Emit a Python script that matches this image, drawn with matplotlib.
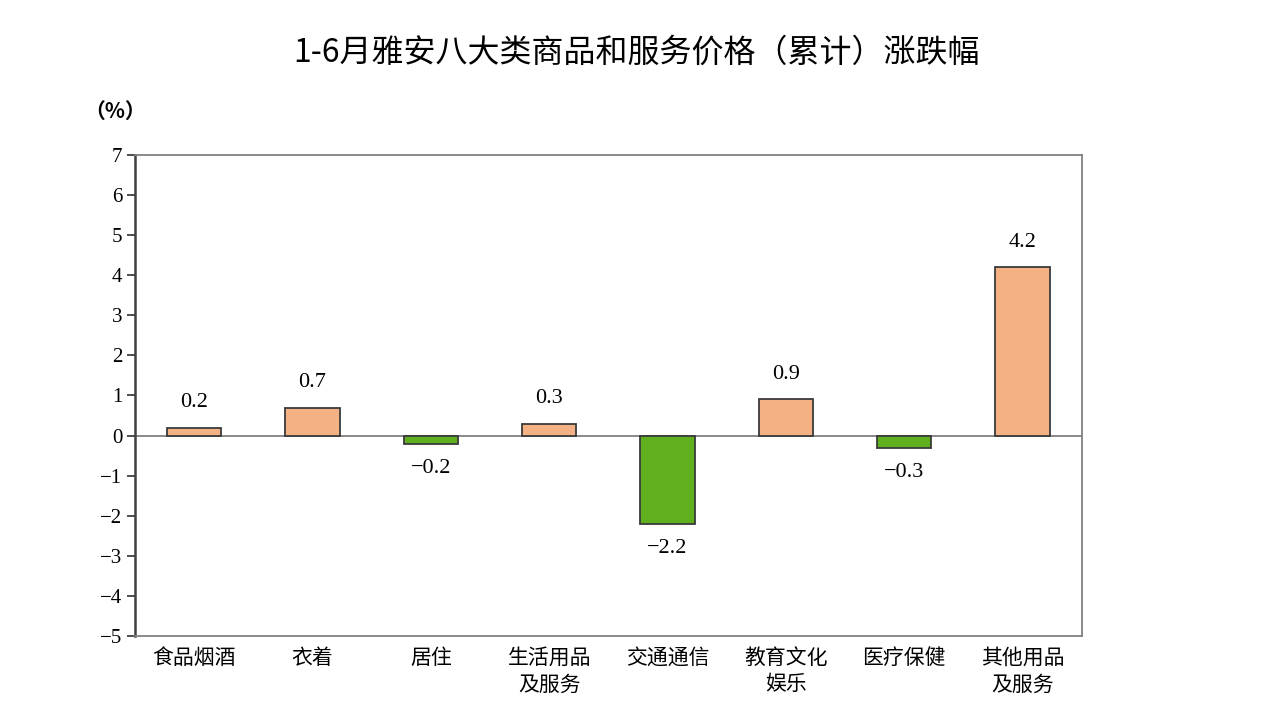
import numpy as np
import matplotlib
matplotlib.use("Agg")
import matplotlib.pyplot as plt

plt.rcParams['font.family'] = ['Noto Sans CJK SC', 'DejaVu Sans']
plt.rcParams['axes.unicode_minus'] = False

# data
categories = ['食品烟酒', '衣着', '居住', '生活用品\n及服务', '交通通信',
              '教育文化\n娱乐', '医疗保健', '其他用品\n及服务']
values = [0.2, 0.7, -0.2, 0.3, -2.2, 0.9, -0.3, 4.2]
yticks = [-5, -4, -3, -2, -1, 0, 1, 2, 3, 4, 5, 6, 7]

orange = '#F4B183'
green = '#5FAF1E'
edge = '#3A3A3A'

fig = plt.figure(figsize=(12.74, 7.26), dpi=100)
ax = fig.add_axes([0.106, 0.124, 0.743, 0.6625])

x = np.arange(len(categories))
colors = [orange if v >= 0 else green for v in values]
ax.bar(x, values, width=0.46, color=colors, edgecolor=edge, linewidth=1.3, zorder=3)
ax.axhline(0, color='#808080', linewidth=1.3, zorder=2)

for xi, v in zip(x, values):
    off = 18 if v >= 0 else -18
    ax.annotate(f'{v:.1f}'.replace('-', '−'), (xi, v), xytext=(0, off),
                textcoords='offset points', ha='center', va='center',
                fontsize=16, family=['Liberation Serif', 'DejaVu Sans'])

ax.set_xlim(-0.5, len(categories) - 0.5)
ax.set_ylim(-5, 7)
ax.set_yticks(yticks)
ax.set_yticklabels([str(t).replace('-', '−') for t in yticks],
                   family=['Liberation Serif', 'DejaVu Sans'], fontsize=15)
ax.set_xticks(x)
ax.set_xticklabels(categories, fontsize=15, linespacing=1.25)
ax.tick_params(axis='x', length=0, pad=8)
ax.tick_params(axis='y', length=6, width=1.3, color='#404040', pad=3)

for side in ['top', 'right', 'bottom']:
    ax.spines[side].set_color('#808080')
    ax.spines[side].set_linewidth(1.3)
ax.spines['left'].set_color('#404040')
ax.spines['left'].set_linewidth(1.8)

fig.text(0.5, 0.928, '1-6月雅安八大类商品和服务价格（累计）涨跌幅',
         ha='center', va='center', fontsize=23)
fig.text(0.066, 0.846, '（%）', ha='left', va='center', fontsize=15,
         fontweight='bold')

fig.savefig('out.png', dpi=100)
